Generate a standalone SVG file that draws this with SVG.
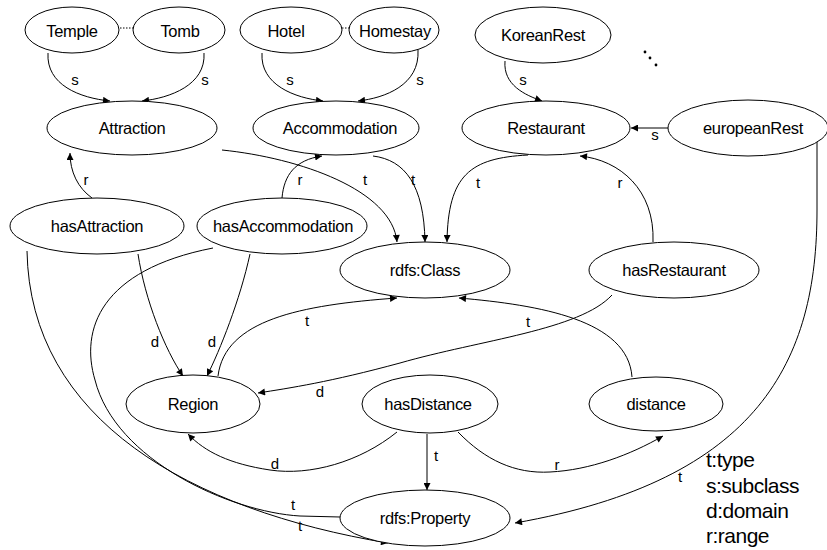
<svg xmlns="http://www.w3.org/2000/svg" width="827" height="550" viewBox="0 0 827 550">
<defs>
<marker id="arr" viewBox="0 0 10 10" refX="10" refY="5" markerWidth="9" markerHeight="7" markerUnits="userSpaceOnUse" orient="auto">
<path d="M0,0 L10,5 L0,10 z" fill="#000"/>
</marker>
<style>
.n ellipse{fill:#fff;stroke:#000;stroke-width:1}
.n text{font-family:"Liberation Sans",Arial,sans-serif;font-size:16.5px;text-anchor:middle;fill:#000;letter-spacing:-0.3px}
.e path{fill:none;stroke:#000;stroke-width:1}
.e path.a{marker-end:url(#arr)}
.l{font-family:"Liberation Sans",Arial,sans-serif;font-size:15px;text-anchor:middle;fill:#000}
.lg{font-family:"Liberation Sans",Arial,sans-serif;font-size:21px;fill:#000;letter-spacing:-0.5px}
.dot{stroke:#000;stroke-width:1;stroke-dasharray:1.5,1.5;fill:none}
</style>
</defs>
<rect width="827" height="550" fill="#fff"/>

<g id="connectors" class="e">
<path class="a" d="M48,53 C46,85 80,98 110,101"/>
<path class="a" d="M204,53 C206,85 170,98 142,101"/>
<path class="a" d="M262,53 C260,85 295,98 323,101"/>
<path class="a" d="M418,50 C420,85 385,98 358,101"/>
<path class="a" d="M505,61 C503,85 525,95 542,101"/>
<path class="a" d="M668,128 L631,128"/>
<path class="a" d="M92,198 C78,188 70,172 70,153"/>
<path class="a" d="M282,198 C284,175 295,160 322,156"/>
<path class="a" d="M222,150 C300,158 392,190 397,242"/>
<path class="a" d="M373,156 C405,160 424,185 425,242"/>
<path class="a" d="M528,155 C470,158 448,175 447,242"/>
<path class="a" d="M653,242 C655,190 620,160 580,156"/>
<path class="a" d="M138,254 C145,300 165,350 183,376"/>
<path class="a" d="M250,254 C240,300 220,350 207,376"/>
<path class="a" d="M218,376 C225,320 300,305 397,298"/>
<path class="a" d="M632,377 C628,320 540,305 459,298"/>
<path class="a" d="M612,295 C580,330 480,340 400,363 C330,382 290,388 258,393"/>
<path class="a" d="M397,432 C360,462 310,476 270,470 C230,464 205,452 188,434"/>
<path class="a" d="M427,434 L427,490"/>
<path class="a" d="M458,432 C485,460 515,474 550,472 C590,470 630,455 663,436"/>
<path class="a" d="M817,142 L817,210 C817,360 760,480 515,523"/>
<path class="a" d="M27,251 C30,420 190,510 388,543"/>
<path d="M213,248 C100,270 80,330 95,380 C115,460 230,512 300,516 L340,517"/>
<path class="dot" d="M120,28 L133,28"/>
<path class="dot" d="M342,28 L349,28"/>
</g>

<g id="Temple" class="n"><ellipse cx="72" cy="30" rx="47" ry="23"/><text x="72" y="37">Temple</text></g>
<g id="Tomb" class="n"><ellipse cx="179" cy="30" rx="46" ry="23"/><text x="180" y="37">Tomb</text></g>
<g id="Hotel" class="n"><ellipse cx="291" cy="30" rx="51" ry="23"/><text x="286" y="37">Hotel</text></g>
<g id="Homestay" class="n"><ellipse cx="394" cy="30" rx="45" ry="23"/><text x="395" y="37">Homestay</text></g>
<g id="KoreanRest" class="n"><ellipse cx="543" cy="35" rx="68" ry="28"/><text x="543" y="41">KoreanRest</text></g>
<g id="Attraction" class="n"><ellipse cx="132" cy="128" rx="85" ry="27"/><text x="132" y="134">Attraction</text></g>
<g id="Accommodation" class="n"><ellipse cx="336" cy="128" rx="83" ry="27"/><text x="340" y="134">Accommodation</text></g>
<g id="Restaurant" class="n"><ellipse cx="546" cy="128" rx="84" ry="27"/><text x="546" y="134">Restaurant</text></g>
<g id="europeanRest" class="n"><ellipse cx="748" cy="128" rx="80" ry="28"/><text x="753" y="134">europeanRest</text></g>
<g id="hasAttraction" class="n"><ellipse cx="97" cy="226" rx="87" ry="28"/><text x="97" y="232">hasAttraction</text></g>
<g id="hasAccommodation" class="n"><ellipse cx="282" cy="226" rx="85" ry="28"/><text x="283" y="232">hasAccommodation</text></g>
<g id="rdfsClass" class="n"><ellipse cx="425" cy="270" rx="85" ry="28"/><text x="425" y="276">rdfs:Class</text></g>
<g id="hasRestaurant" class="n"><ellipse cx="674" cy="270" rx="85" ry="28"/><text x="674" y="276">hasRestaurant</text></g>
<g id="Region" class="n"><ellipse cx="193" cy="404" rx="67" ry="29"/><text x="193" y="410">Region</text></g>
<g id="hasDistance" class="n"><ellipse cx="430" cy="404" rx="68" ry="29"/><text x="428" y="410">hasDistance</text></g>
<g id="distance" class="n"><ellipse cx="656" cy="404" rx="67" ry="27"/><text x="656" y="410">distance</text></g>
<g id="rdfsProperty" class="n"><ellipse cx="425" cy="518" rx="85" ry="28"/><text x="425" y="524">rdfs:Property</text></g>

<g id="edge-labels">
<text class="l" x="75" y="85">s</text>
<text class="l" x="205" y="85">s</text>
<text class="l" x="290" y="85">s</text>
<text class="l" x="420" y="85">s</text>
<text class="l" x="523" y="85">s</text>
<text class="l" x="655" y="140">s</text>
<text class="l" x="86" y="185">r</text>
<text class="l" x="300" y="185">r</text>
<text class="l" x="365" y="185">t</text>
<text class="l" x="413" y="185">t</text>
<text class="l" x="478" y="188">t</text>
<text class="l" x="620" y="188">r</text>
<text class="l" x="155" y="347">d</text>
<text class="l" x="212" y="347">d</text>
<text class="l" x="307" y="326">t</text>
<text class="l" x="528" y="327">t</text>
<text class="l" x="320" y="397">d</text>
<text class="l" x="275" y="469">d</text>
<text class="l" x="436" y="461">t</text>
<text class="l" x="557" y="470">r</text>
<text class="l" x="680" y="482">t</text>
<text class="l" x="293" y="510">t</text>
<text class="l" x="300" y="531">t</text>
</g>

<g id="ellipsis">
<circle cx="645" cy="52" r="1.4" fill="#000"/>
<circle cx="650" cy="58" r="1.4" fill="#000"/>
<circle cx="656" cy="65" r="1.4" fill="#000"/>
</g>

<g id="legend">
<text class="lg" x="706" y="467">t:type</text>
<text class="lg" x="706" y="493">s:subclass</text>
<text class="lg" x="706" y="518">d:domain</text>
<text class="lg" x="706" y="543">r:range</text>
</g>
</svg>
